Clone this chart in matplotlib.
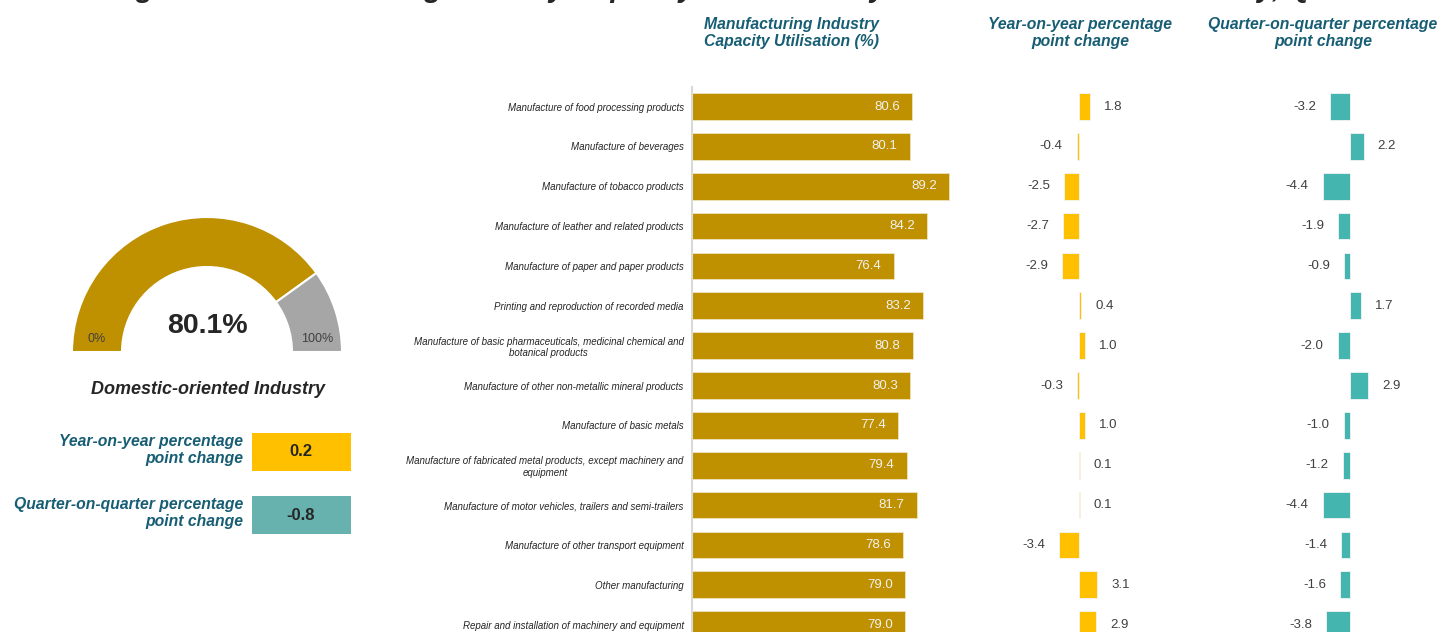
import numpy as np
import matplotlib.pyplot as plt
from matplotlib.patches import Wedge, Rectangle

plt.rcParams['font.family'] = ['Liberation Sans', 'DejaVu Sans']

categories = [
    'Manufacture of food processing products',
    'Manufacture of beverages',
    'Manufacture of tobacco products',
    'Manufacture of leather and related products',
    'Manufacture of paper and paper products',
    'Printing and reproduction of recorded media',
    'Manufacture of basic pharmaceuticals, medicinal chemical and\nbotanical products',
    'Manufacture of other non-metallic mineral products',
    'Manufacture of basic metals',
    'Manufacture of fabricated metal products, except machinery and\nequipment',
    'Manufacture of motor vehicles, trailers and semi-trailers',
    'Manufacture of other transport equipment',
    'Other manufacturing',
    'Repair and installation of machinery and equipment',
]
utilisation = [80.6, 80.1, 89.2, 84.2, 76.4, 83.2, 80.8, 80.3, 77.4, 79.4, 81.7, 78.6, 79.0, 79.0]
yoy_change = [1.8, -0.4, -2.5, -2.7, -2.9, 0.4, 1.0, -0.3, 1.0, 0.1, 0.1, -3.4, 3.1, 2.9]
qoq_change = [-3.2, 2.2, -4.4, -1.9, -0.9, 1.7, -2.0, 2.9, -1.0, -1.2, -4.4, -1.4, -1.6, -3.8]

overall_util = 80.1
overall_yoy = 0.2
overall_qoq = -0.8

W, H = 1443, 632
TEAL_TXT = '#175E74'
GOLD = '#BF9000'
YELLOW = '#FFC000'
TEAL = '#45B5B0'
DARK = '#262626'


def px_axes(fig, left, top, width, height):
    return fig.add_axes([left / W, 1 - (top + height) / H, width / W, height / H])


def change_panel(ax, values, color, lim):
    y = np.arange(len(values))
    ax.barh(y, values, height=0.67, color=color, edgecolor='#F4F4F4', linewidth=0.6)
    for yi, v in zip(y, values):
        off = 14 if v >= 0 else -14
        ax.annotate(f'{v:.1f}', (v, yi), xytext=(off, 0), textcoords='offset pixels',
                    ha='left' if v >= 0 else 'right', va='center',
                    fontsize=9.5, color='#404040')
    ax.set_xlim(-lim, lim)
    ax.set_ylim(len(values) - 0.5, -0.5)
    ax.axis('off')


def Main():
    fig = plt.figure(figsize=(W / 100, H / 100), dpi=100)

    # title, mostly cut off at the top
    fig.text(110 / W, 1.0 + 3 / H, 'Figure 2: Manufacturing Industry Capacity Utilisation by '
             'Domestic-oriented Industry, Q3 2024', fontsize=21, fontweight='bold',
             fontstyle='italic', color=DARK, ha='left', va='baseline')

    # gauge panel (pixel coordinates, y up)
    axg = px_axes(fig, 0, 0, 400, H)
    axg.set_xlim(0, 400)
    axg.set_ylim(0, H)
    axg.axis('off')
    cx, cy = 207, H - 352
    split = 180 - overall_util / 100 * 180
    axg.add_patch(Wedge((cx, cy), 135, split, 180, width=50, facecolor=GOLD,
                        edgecolor='white', linewidth=1.5))
    axg.add_patch(Wedge((cx, cy), 135, 0, split, width=50, facecolor='#A6A6A6',
                        edgecolor='white', linewidth=1.5))
    axg.text(cx, H - 326, f'{overall_util:.1f}%', fontsize=20.5, fontweight='bold',
             color=DARK, ha='center', va='center')
    axg.text(97, H - 339, '0%', fontsize=9, color='#404040', ha='center', va='center')
    axg.text(317, H - 339, '100%', fontsize=9, color='#404040', ha='center', va='center')
    axg.text(cx + 1, H - 390, 'Domestic-oriented Industry', fontsize=13, fontweight='bold',
             fontstyle='italic', color=DARK, ha='center', va='center')

    boxes = [('Year-on-year percentage\npoint change', overall_yoy, YELLOW, 433),
             ('Quarter-on-quarter percentage\npoint change', overall_qoq, '#67B2AF', 496)]
    for label, val, col, top in boxes:
        axg.add_patch(Rectangle((252, H - top - 38), 99, 38, facecolor=col, edgecolor='none'))
        axg.text(301, H - top - 19, f'{val:.1f}', fontsize=12, fontweight='bold',
                 color=DARK, ha='center', va='center')
        axg.text(243, H - top - 17, label, fontsize=11.3, fontweight='bold',
                 fontstyle='italic', color=TEAL_TXT, ha='right', va='center',
                 multialignment='right')

    # main utilisation bars (axis starts at 30)
    y = np.arange(len(categories))
    ax = px_axes(fig, 692, 86.6, 304, 558)
    ax.barh(y, utilisation, height=0.67, color=GOLD, edgecolor='#EFE3BF', linewidth=0.6)
    ax.set_xlim(30, 100)
    ax.set_ylim(len(categories) - 0.5, -0.5)
    for yi, v in zip(y, utilisation):
        ax.annotate(f'{v:.1f}', (v, yi), xytext=(-12, 0), textcoords='offset pixels',
                    ha='right', va='center', fontsize=9.5, color='#F2F2F2')
    ax.set_yticks(y)
    ax.set_yticklabels(categories, fontsize=7.0, fontstyle='italic', color=DARK)
    for t in ax.get_yticklabels():
        t.set_multialignment('center')
    ax.tick_params(axis='y', length=0, pad=6)
    ax.set_xticks([])
    for s in ['top', 'right', 'bottom']:
        ax.spines[s].set_visible(False)
    ax.spines['left'].set_color('#D9D9D9')
    ax.spines['left'].set_linewidth(1.5)
    ax.spines['left'].set_zorder(3)

    # change panels
    ax_yoy = px_axes(fig, 1000, 86.6, 158, 558)
    change_panel(ax_yoy, yoy_change, YELLOW, 13.5)
    ax_qoq = px_axes(fig, 1250, 86.6, 200, 558)
    change_panel(ax_qoq, qoq_change, TEAL, 16.13)

    # column headers
    heads = [('Manufacturing Industry\nCapacity Utilisation (%)', 791),
             ('Year-on-year percentage\npoint change', 1080),
             ('Quarter-on-quarter percentage\npoint change', 1323)]
    for txt, x in heads:
        fig.text(x / W, 1 - 33 / H, txt, fontsize=11.3, fontweight='bold', fontstyle='italic',
                 color=TEAL_TXT, ha='center', va='center', multialignment='center')

    fig.savefig('out.png', dpi=100)
    plt.close()


if __name__ == '__main__':
    Main()
